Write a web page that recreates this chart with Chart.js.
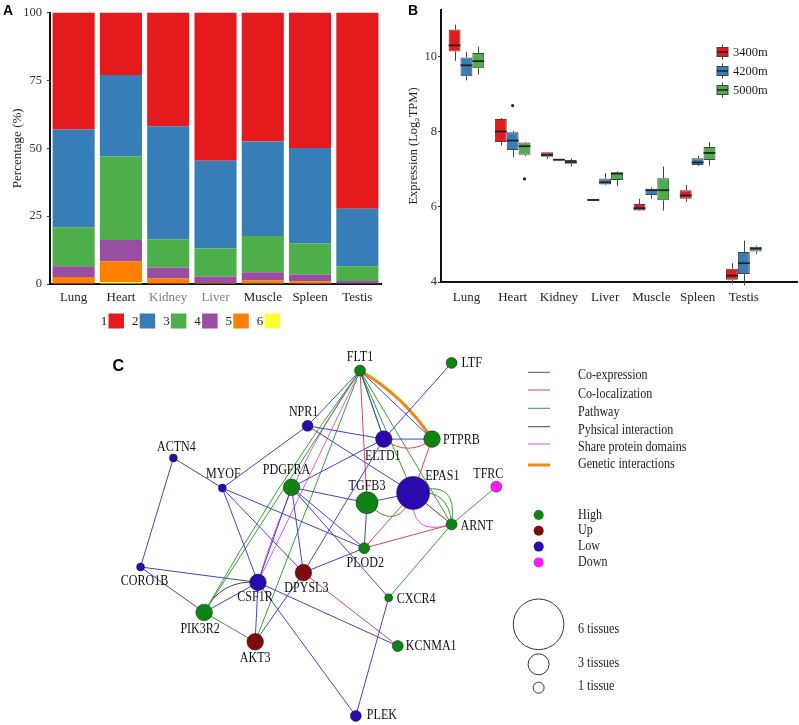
<!DOCTYPE html>
<html>
<head>
<meta charset="utf-8">
<title>Tissue expression</title>
<script src="https://cdn.jsdelivr.net/npm/chart.js@4.4.1/dist/chart.umd.min.js"></script>
<style>
  html, body { margin: 0; padding: 0; background: #fff; }
  body { position: relative; width: 799px; height: 725px; overflow: hidden; }
  canvas { position: absolute; }
  #chartA { left: 0; top: 0; }
  #chartB { left: 400px; top: 0; }
  #chartC { left: 100px; top: 332px; }
</style>
</head>
<body>
<canvas id="chartA" width="400" height="332"></canvas>
<canvas id="chartB" width="399" height="320"></canvas>
<canvas id="chartC" width="699" height="393"></canvas>
<script>
const tissues = ["Lung", "Heart", "Kidney", "Liver", "Muscle", "Spleen", "Testis"];

// A: percentage of genes in each cluster
const clusterNames = ["1", "2", "3", "4", "5", "6"];
const cluster1 = [43.1, 23.0, 41.9, 54.6, 47.5, 49.9, 72.3];
const cluster2 = [36.0, 30.0, 41.6, 32.3, 34.8, 35.2, 21.2];
const cluster3 = [14.4, 30.8, 10.4, 10.3, 13.4, 11.4, 5.4];
const cluster4 = [3.9, 7.8, 4.1, 2.4, 3.0, 2.5, 0.9];
const cluster5 = [2.6, 7.7, 2.0, 0.4, 1.3, 1.0, 0.2];
const cluster6 = [0.0, 0.7, 0.0, 0.0, 0.0, 0.0, 0.0];

// B: expression boxes, [min, q1, median, q3, max] per tissue
const altitudes = ["3400m", "4200m", "5000m"];
const box3400 = [
  [9.88, 10.13, 10.29, 10.71, 10.84],
  [7.63, 7.72, 8.00, 8.33, 8.36],
  [7.27, 7.33, 7.38, 7.45, 7.46],
  [6.15, 6.16, 6.18, 6.20, 6.21],
  [5.89, 5.90, 5.96, 6.07, 6.21],
  [6.13, 6.21, 6.30, 6.44, 6.58],
  [3.96, 4.06, 4.17, 4.35, 4.50]
];
const box4200 = [
  [9.36, 9.47, 9.76, 9.97, 10.11],
  [7.32, 7.51, 7.76, 7.98, 8.02],
  [7.22, 7.23, 7.25, 7.26, 7.27],
  [6.57, 6.59, 6.65, 6.75, 6.89],
  [6.21, 6.31, 6.44, 6.48, 6.52],
  [7.09, 7.11, 7.18, 7.29, 7.35],
  [3.91, 4.21, 4.50, 4.80, 5.10]
];
const box5000 = [
  [9.51, 9.68, 9.87, 10.09, 10.25],
  [7.35, 7.38, 7.61, 7.71, 7.73],
  [7.07, 7.14, 7.19, 7.24, 7.28],
  [6.55, 6.71, 6.88, 6.92, 6.94],
  [5.90, 6.17, 6.44, 6.76, 7.07],
  [7.09, 7.24, 7.43, 7.59, 7.72],
  [4.74, 4.81, 4.89, 4.94, 4.97]
];
// [tissue index, value]
const outliers3400 = [];
const outliers4200 = [[1, 8.69]];
const outliers5000 = [[1, 6.74]];

// C: network
const nodeNames = ["FLT1", "LTF", "NPR1", "ELTD1", "PTPRB", "ACTN4", "MYOF", "PDGFRA", "TGFB3", "EPAS1", "TFRC",
  "ARNT", "PLOD2", "CORO1B", "CSF1R", "DPYSL3", "CXCR4", "PIK3R2", "AKT3", "KCNMA1", "PLEK"];
const nodeX = [37.2, 50.3, 29.7, 40.6, 47.5, 10.5, 17.5, 27.4, 38.2, 44.8, 56.7,
  50.3, 37.8, 5.8, 22.6, 29.1, 41.3, 14.9, 22.2, 42.6, 36.6];
const nodeY = [50.7, 51.8, 42.8, 40.9, 40.9, 38.2, 33.9, 34.0, 31.8, 33.2, 34.1,
  28.7, 25.3, 22.6, 20.4, 21.8, 18.2, 16.1, 11.9, 11.3, 1.3];
const nodeTissues = [2, 2, 2, 3, 3, 1, 1, 3, 4, 5, 2, 2, 2, 1, 3, 3, 1, 3, 3, 2, 2];
const nodeGroup = ["High", "High", "Low", "Low", "High", "Low", "Low", "High", "High", "Low", "Down",
  "High", "High", "Low", "Low", "Up", "High", "High", "Up", "High", "Low"];

const edges = [
  ["FLT1", "NPR1", "coexp"], ["FLT1", "PTPRB", "coexp"], ["FLT1", "ELTD1", "coexp"], ["NPR1", "ELTD1", "coexp"],
  ["NPR1", "EPAS1", "coexp"], ["NPR1", "MYOF", "coexp"], ["LTF", "ELTD1", "coexp"], ["ELTD1", "PTPRB", "coexp"],
  ["ELTD1", "PDGFRA", "coexp"], ["ELTD1", "DPYSL3", "coexp"], ["ACTN4", "MYOF", "coexp"], ["ACTN4", "CORO1B", "coexp"],
  ["MYOF", "CSF1R", "coexp"], ["MYOF", "DPYSL3", "coexp"], ["MYOF", "PLOD2", "coexp"], ["PDGFRA", "TGFB3", "coexp"],
  ["PDGFRA", "PLOD2", "coexp"], ["PDGFRA", "CXCR4", "coexp"], ["PDGFRA", "DPYSL3", "coexp"], ["PDGFRA", "CSF1R", "coexp"],
  ["TGFB3", "EPAS1", "coexp"], ["TGFB3", "PLOD2", "coexp"], ["PLOD2", "DPYSL3", "coexp"], ["CORO1B", "CSF1R", "coexp"],
  ["CORO1B", "PIK3R2", "coexp"], ["CSF1R", "PIK3R2", "coexp"], ["CSF1R", "AKT3", "coexp"], ["CSF1R", "KCNMA1", "coexp"],
  ["CSF1R", "PLEK", "coexp"], ["DPYSL3", "AKT3", "coexp"], ["CXCR4", "PLEK", "coexp"],
  ["FLT1", "TGFB3", "coloc"], ["PTPRB", "EPAS1", "coloc"], ["EPAS1", "PLOD2", "coloc"], ["ARNT", "PLOD2", "coloc"],
  ["DPYSL3", "KCNMA1", "coloc"],
  ["FLT1", "ELTD1", "pathway"], ["FLT1", "EPAS1", "pathway"], ["FLT1", "ARNT", "pathway"], ["FLT1", "PIK3R2", "pathway"],
  ["FLT1", "AKT3", "pathway"], ["ARNT", "TFRC", "pathway"], ["ARNT", "CXCR4", "pathway"], ["PIK3R2", "AKT3", "pathway"],
  ["EPAS1", "ARNT", "physical"],
  ["FLT1", "CSF1R", "domains"]
];
// second links between the same pair, drawn bent
const curvedEdges = [
  ["FLT1", "PTPRB", "genetic"], ["ELTD1", "PTPRB", "coloc"], ["TGFB3", "EPAS1", "pathway"],
  ["EPAS1", "ARNT", "pathway"], ["EPAS1", "ARNT", "pathway"], ["EPAS1", "ARNT", "domains"],
  ["CSF1R", "PIK3R2", "physical"], ["FLT1", "CSF1R", "domains"], ["FLT1", "PIK3R2", "pathway"]
];
const curveBend = [-0.06, 0.19, 0.4, -0.42, -0.27, 0.38, 0.17, 0.042, 0.015];

const edgeTypes = ["coexp", "coloc", "pathway", "physical", "domains", "genetic"];
const edgeLabels = ["Co-expression", "Co-localization", "Pathway", "Pyhsical interaction", "Share protein domains", "Genetic interactions"];
const groupNames = ["High", "Up", "Low", "Down"];
const sizeLabels = ["6 tissues", "3 tissues", "1 tissue"];

// ---- styles ----
Chart.defaults.font.family = "'Liberation Serif', 'Times New Roman', serif";
Chart.defaults.color = "#222";
const serif = "'Liberation Serif', 'Times New Roman', serif";
const clusterColors = ["#E41A1C", "#377EB8", "#4DAF4A", "#984EA3", "#FF7F00", "#FFFF33"];
const altColors = ["#E41A1C", "#377EB8", "#4DAF4A"];
const edgeColors = { coexp: "#4343cc", coloc: "#e0464c", pathway: "#3a9a3a", physical: "#5a4038", domains: "#e058e0", genetic: "#f28a12" };
const groupColors = { High: "#108410", Up: "#7e0b0b", Low: "#2a0aae", Down: "#ff18ff" };
const radiusByTissues = { 1: 4, 2: 5.5, 3: 8.3, 4: 11, 5: 16.5 };
const labelPlace = {
  FLT1: ["center", 0, -13], LTF: ["left", 10, 0], NPR1: ["center", -4, -13], ELTD1: ["center", -1, 17],
  PTPRB: ["left", 11, 1], ACTN4: ["center", 3, -11], MYOF: ["center", 1, -14], PDGFRA: ["center", -5, -17],
  TGFB3: ["center", 0, -16], EPAS1: ["left", 12, -17], TFRC: ["center", -8, -12], ARNT: ["left", 9, 1.5],
  PLOD2: ["center", 1, 15], CORO1B: ["center", 4, 14], CSF1R: ["center", -3, 15], DPYSL3: ["center", 3, 16],
  CXCR4: ["left", 8, 1.5], PIK3R2: ["center", -4, 17], AKT3: ["center", 0, 17], KCNMA1: ["left", 8, 0],
  PLEK: ["left", 11, -1]
};

function panelLetter(ctx, letter, x, y, size) {
  ctx.save();
  ctx.font = "bold " + size + "px 'Liberation Sans', Arial, sans-serif";
  ctx.fillStyle = "#000";
  ctx.textBaseline = "alphabetic";
  ctx.fillText(letter, x, y);
  ctx.restore();
}

// the figure text is a little narrower than the font
function narrowText(ctx, text, x, y, align) {
  ctx.save();
  ctx.translate(x, y);
  ctx.scale(0.86, 1);
  ctx.textAlign = align;
  ctx.fillText(text, 0, 0);
  ctx.restore();
}

// ---- A ----
const clusterSeries = [cluster1, cluster2, cluster3, cluster4, cluster5, cluster6];

const legendA = {
  id: "legendA",
  afterDraw(chart) {
    const ctx = chart.ctx;
    ctx.save();
    ctx.font = "13px " + serif;
    ctx.textAlign = "center";
    ctx.textBaseline = "middle";
    clusterNames.forEach((name, i) => {
      const cx = 104 + i * 31.2;
      ctx.fillStyle = "#222";
      ctx.fillText(name, cx, 322);
      ctx.fillStyle = clusterColors[i];
      ctx.fillRect(cx + 4.5, 313.5, 15.5, 15);
    });
    ctx.restore();
    panelLetter(ctx, "A", 3, 15, 14);
  }
};

new Chart(document.getElementById("chartA"), {
  type: "bar",
  data: {
    labels: tissues,
    datasets: clusterSeries.map((s, i) => ({
      label: clusterNames[i],
      data: s,
      backgroundColor: clusterColors[i],
      borderWidth: 0,
      categoryPercentage: 1,
      barPercentage: 0.89,
      order: 0
    })).reverse()
  },
  options: {
    responsive: false,
    animation: false,
    events: [],
    layout: { padding: { left: 0, right: 19, top: 11, bottom: 0 } },
    scales: {
      x: {
        stacked: true,
        grid: { display: false, drawTicks: false },
        border: { display: true, color: "#111", width: 2 },
        ticks: {
          font: { size: 13 },
          padding: 6,
          color: c => (c.index === 2 || c.index === 3) ? "#808080" : "#222"
        },
        afterFit: s => { s.height = 48; }
      },
      y: {
        stacked: true,
        min: 0,
        max: 100,
        bounds: "data",
        ticks: { stepSize: 25, font: { size: 12.5 }, color: "#333", padding: 5 },
        grid: { drawOnChartArea: false, drawTicks: true, tickLength: 3, color: "#333" },
        border: { display: true, color: "#111", width: 2 },
        title: { display: true, text: "Percentage (%)", font: { size: 13 }, color: "#222", padding: { top: 10, bottom: 0 } },
        afterFit: s => { s.width = 50; }
      }
    },
    plugins: { legend: { display: false }, tooltip: { enabled: false } }
  },
  plugins: [legendA]
});

// ---- B ----
const boxSeries = [box3400, box4200, box5000];
const outlierSeries = [outliers3400, outliers4200, outliers5000];

const boxParts = {
  id: "boxParts",
  beforeDatasetsDraw(chart) {
    const { ctx } = chart;
    const y = chart.scales.y;
    ctx.save();
    ctx.strokeStyle = "#444";
    ctx.lineWidth = 1;
    boxSeries.forEach((series, d) => {
      chart.getDatasetMeta(d).data.forEach((bar, i) => {
        const b = series[i];
        const x = Math.round(bar.x) + 0.5;
        ctx.beginPath();
        ctx.moveTo(x, y.getPixelForValue(b[4]));
        ctx.lineTo(x, y.getPixelForValue(b[3]));
        ctx.moveTo(x, y.getPixelForValue(b[1]));
        ctx.lineTo(x, y.getPixelForValue(b[0]));
        ctx.stroke();
      });
    });
    ctx.restore();
  },
  afterDatasetsDraw(chart) {
    const { ctx } = chart;
    const y = chart.scales.y;
    ctx.save();
    boxSeries.forEach((series, d) => {
      const bars = chart.getDatasetMeta(d).data;
      ctx.strokeStyle = "#222";
      ctx.lineWidth = 1.8;
      bars.forEach((bar, i) => {
        const m = y.getPixelForValue(series[i][2]);
        ctx.beginPath();
        ctx.moveTo(bar.x - bar.width / 2, m);
        ctx.lineTo(bar.x + bar.width / 2, m);
        ctx.stroke();
      });
      ctx.fillStyle = "#222";
      outlierSeries[d].forEach(([i, v]) => {
        ctx.beginPath();
        ctx.arc(bars[i].x, y.getPixelForValue(v), 1.6, 0, Math.PI * 2);
        ctx.fill();
      });
    });
    ctx.restore();
  },
  afterDraw(chart) {
    const ctx = chart.ctx;
    ctx.save();
    altitudes.forEach((alt, d) => {
      const cy = 52 + d * 19;
      ctx.strokeStyle = "#444";
      ctx.lineWidth = 1;
      ctx.beginPath();
      ctx.moveTo(322.5, cy - 7.5);
      ctx.lineTo(322.5, cy + 7.5);
      ctx.stroke();
      ctx.fillStyle = altColors[d];
      ctx.fillRect(317, cy - 4.5, 11, 9);
      ctx.strokeRect(317, cy - 4.5, 11, 9);
      ctx.strokeStyle = "#222";
      ctx.lineWidth = 1.5;
      ctx.beginPath();
      ctx.moveTo(317, cy);
      ctx.lineTo(328, cy);
      ctx.stroke();
      ctx.fillStyle = "#222";
      ctx.font = "12.5px " + serif;
      ctx.textBaseline = "middle";
      ctx.fillText(alt, 333, cy + 0.5);
    });
    ctx.restore();
    panelLetter(ctx, "B", 8, 15, 14);
  }
};

new Chart(document.getElementById("chartB"), {
  type: "bar",
  data: {
    datasets: boxSeries.map((series, d) => ({
      label: altitudes[d],
      data: series.map((b, i) => ({ x: i, y: [b[1], b[3]] })),
      backgroundColor: altColors[d],
      borderColor: "#444",
      borderWidth: 1,
      borderSkipped: false,
      categoryPercentage: 0.77,
      barPercentage: 1
    }))
  },
  options: {
    responsive: false,
    animation: false,
    events: [],
    layout: { padding: { left: 0, right: 2, top: 10, bottom: 0 } },
    scales: {
      x: {
        type: "linear",
        min: -0.55,
        max: 7.15,
        bounds: "data",
        offset: false,
        grid: { display: false, drawTicks: false },
        border: { display: true, color: "#111", width: 2 },
        ticks: { autoSkip: false, font: { size: 13 }, color: "#222", padding: 8, callback: v => tissues[v] ?? "" },
        afterBuildTicks: s => { s.ticks = tissues.map((t, i) => ({ value: i })); },
        afterFit: s => { s.height = 38; }
      },
      y: {
        min: 4,
        max: 11.23,
        bounds: "data",
        ticks: { stepSize: 2, includeBounds: false, font: { size: 12.5 }, color: "#333", padding: 1 },
        grid: { drawOnChartArea: false, drawTicks: true, tickLength: 3, color: "#333" },
        border: { display: true, color: "#111", width: 2 },
        title: { display: true, text: "Expression (Log\u2082TPM)", font: { size: 12.5 }, color: "#222", padding: { top: 6, bottom: 0 } },
        afterFit: s => { s.width = 41; }
      }
    },
    plugins: { legend: { display: false }, tooltip: { enabled: false } }
  },
  plugins: [boxParts]
});

// ---- C ----
function nodePoint(name) {
  const i = nodeNames.indexOf(name);
  return { x: nodeX[i], y: nodeY[i] };
}
function nodePixel(chart, name) {
  const p = nodePoint(name);
  return [chart.scales.x.getPixelForValue(p.x), chart.scales.y.getPixelForValue(p.y)];
}

const network = {
  id: "network",
  beforeDatasetsDraw(chart) {
    const ctx = chart.ctx;
    ctx.save();
    curvedEdges.forEach(([a, b, type], k) => {
      const [x1, y1] = nodePixel(chart, a);
      const [x2, y2] = nodePixel(chart, b);
      const dx = x2 - x1, dy = y2 - y1;
      const cx = (x1 + x2) / 2 - dy * 2 * curveBend[k];
      const cy = (y1 + y2) / 2 + dx * 2 * curveBend[k];
      ctx.strokeStyle = edgeColors[type];
      ctx.lineWidth = type === "genetic" ? 3 : 1;
      ctx.beginPath();
      ctx.moveTo(x1, y1);
      ctx.quadraticCurveTo(cx, cy, x2, y2);
      ctx.stroke();
    });
    ctx.restore();
  },
  afterDatasetsDraw(chart) {
    const ctx = chart.ctx;
    ctx.save();
    ctx.font = "14px " + serif;
    ctx.fillStyle = "#111";
    ctx.textBaseline = "middle";
    nodeNames.forEach(name => {
      const [x, y] = nodePixel(chart, name);
      const [align, dx, dy] = labelPlace[name];
      narrowText(ctx, name, x + dx, y + dy, align);
    });
    ctx.restore();
  },
  afterDraw(chart) {
    const ctx = chart.ctx;
    ctx.save();
    ctx.font = "14px " + serif;
    ctx.textBaseline = "middle";
    const lineY = [40.3, 58, 76.3, 94.7, 112, 133];
    const textY = [43, 62, 80.7, 98.7, 115.7, 132.3];
    edgeTypes.forEach((t, i) => {
      ctx.strokeStyle = edgeColors[t];
      ctx.lineWidth = t === "genetic" ? 3 : 1;
      ctx.beginPath();
      ctx.moveTo(428, lineY[i]);
      ctx.lineTo(450, lineY[i]);
      ctx.stroke();
      ctx.fillStyle = "#222";
      narrowText(ctx, edgeLabels[i], 478, textY[i], "left");
    });
    groupNames.forEach((g, i) => {
      const cy = 183 + i * 15.8;
      ctx.fillStyle = groupColors[g];
      ctx.beginPath();
      ctx.arc(438.7, cy, 5, 0, Math.PI * 2);
      ctx.fill();
      ctx.fillStyle = "#222";
      narrowText(ctx, g, 478, cy, "left");
    });
    const sizeY = [292.3, 332.3, 355.7];
    const sizeR = [25.3, 10.5, 5.5];
    const sizeTextY = [297.3, 331.3, 354.7];
    sizeLabels.forEach((s, i) => {
      ctx.strokeStyle = "#333";
      ctx.lineWidth = 1;
      ctx.beginPath();
      ctx.arc(438.6, sizeY[i], sizeR[i], 0, Math.PI * 2);
      ctx.stroke();
      ctx.fillStyle = "#222";
      narrowText(ctx, s, 478, sizeTextY[i], "left");
    });
    ctx.restore();
    panelLetter(ctx, "C", 12.5, 38.7, 16);
  }
};

const nodeDataset = {
  type: "scatter",
  label: "genes",
  data: nodeNames.map(nodePoint),
  pointRadius: c => radiusByTissues[nodeTissues[c.dataIndex]],
  pointBackgroundColor: c => groupColors[nodeGroup[c.dataIndex]],
  pointBorderColor: "#1a1a1a",
  pointBorderWidth: 0.5,
  order: 0,
  clip: false
};
const edgeDatasets = edges.map(([a, b, type]) => ({
  type: "line",
  label: a + "-" + b,
  data: [nodePoint(a), nodePoint(b)],
  borderColor: edgeColors[type],
  borderWidth: 1,
  pointRadius: 0,
  tension: 0,
  fill: false,
  order: 1,
  clip: false
}));

new Chart(document.getElementById("chartC"), {
  type: "scatter",
  data: { datasets: [nodeDataset, ...edgeDatasets] },
  options: {
    responsive: false,
    animation: false,
    events: [],
    layout: { padding: 0, autoPadding: false },
    scales: {
      x: { type: "linear", display: false, min: 0, max: 100 },
      y: { type: "linear", display: false, min: 0, max: 56.22 }
    },
    plugins: { legend: { display: false }, tooltip: { enabled: false } }
  },
  plugins: [network]
});
</script>
</body>
</html>
